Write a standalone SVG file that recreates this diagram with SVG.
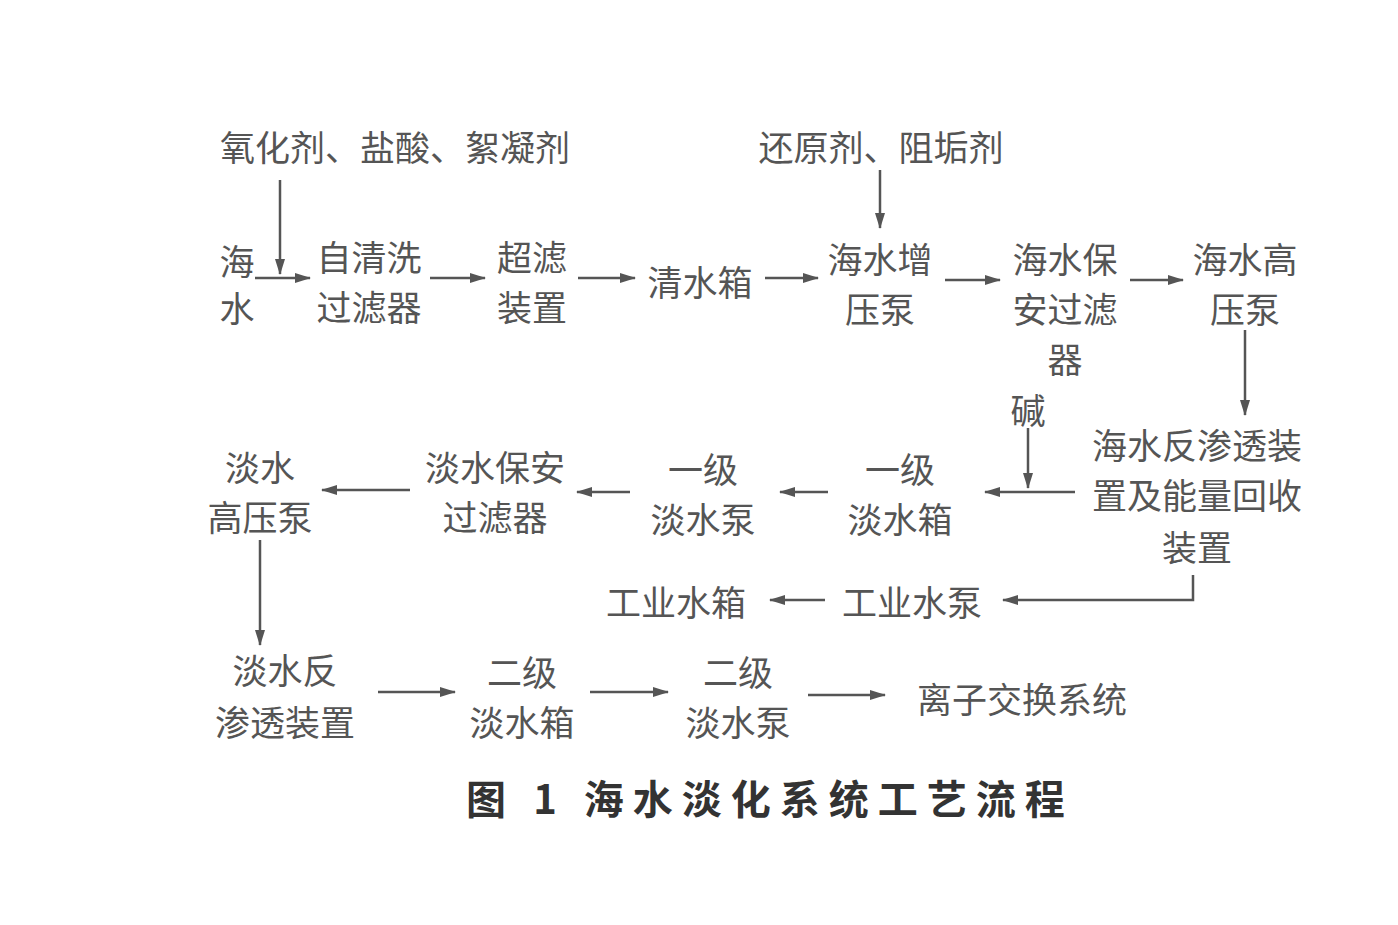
<svg xmlns="http://www.w3.org/2000/svg" width="1398" height="925" viewBox="0 0 1398 925">
<style>
text{font-family:"Noto Sans CJK SC","Liberation Serif",serif;font-size:35px;fill:#555;text-anchor:middle;dominant-baseline:central}
.c{font-family:"Noto Sans CJK SC",sans-serif;font-size:40px;fill:#333;font-weight:bold;letter-spacing:9px}
line,polyline{stroke:#555;stroke-width:2.5;fill:none;marker-end:url(#a)}
</style>
<defs><marker id="a" markerWidth="16" markerHeight="10" refX="15" refY="5" orient="auto" markerUnits="userSpaceOnUse" viewBox="0 0 16 10"><path d="M0,0L16,5L0,10z" fill="#555"/></marker></defs>
<rect width="1398" height="925" fill="#fff"/>
<g id="n1"><text x="395" y="145">氧化剂、盐酸、絮凝剂</text></g>
<g id="n2"><text x="881" y="145">还原剂、阻垢剂</text></g>
<g id="n3"><text x="237" y="259" font-size="33">海</text><text x="237" y="306" font-size="33">水</text></g>
<g id="n4"><text x="369" y="255">自清洗</text><text x="369" y="305">过滤器</text></g>
<g id="n5"><text x="532" y="255">超滤</text><text x="532" y="305">装置</text></g>
<g id="n6"><text x="700" y="280">清水箱</text></g>
<g id="n7"><text x="880" y="257">海水增</text><text x="880" y="307">压泵</text></g>
<g id="n8"><text x="1065" y="257">海水保</text><text x="1065" y="307">安过滤</text><text x="1065" y="357">器</text></g>
<g id="n9"><text x="1245" y="257">海水高</text><text x="1245" y="307">压泵</text></g>
<g id="n10"><text x="1028" y="408">碱</text></g>
<g id="n11"><text x="1197" y="443">海水反渗透装</text><text x="1197" y="493">置及能量回收</text><text x="1197" y="545">装置</text></g>
<g id="n12"><text x="900" y="467">一级</text><text x="900" y="517">淡水箱</text></g>
<g id="n13"><text x="703" y="467">一级</text><text x="703" y="517">淡水泵</text></g>
<g id="n14"><text x="495" y="465">淡水保安</text><text x="495" y="515">过滤器</text></g>
<g id="n15"><text x="260" y="465">淡水</text><text x="260" y="515">高压泵</text></g>
<g id="n16"><text x="676" y="600">工业水箱</text></g>
<g id="n17"><text x="912" y="600">工业水泵</text></g>
<g id="n18"><text x="285" y="668">淡水反</text><text x="285" y="720">渗透装置</text></g>
<g id="n19"><text x="522" y="670">二级</text><text x="522" y="720">淡水箱</text></g>
<g id="n20"><text x="738" y="670">二级</text><text x="738" y="720">淡水泵</text></g>
<g id="n21"><text x="1022" y="697">离子交换系统</text></g>
<text class="c" x="770" y="797">图 1  海水淡化系统工艺流程</text>
<g id="connectors">
<line x1="280" y1="180" x2="280" y2="274"/>
<line x1="255" y1="278" x2="310" y2="278"/>
<line x1="430" y1="278" x2="485" y2="278"/>
<line x1="578" y1="278" x2="635" y2="278"/>
<line x1="765" y1="278" x2="818" y2="278"/>
<line x1="880" y1="170" x2="880" y2="228"/>
<line x1="945" y1="280" x2="1000" y2="280"/>
<line x1="1130" y1="280" x2="1183" y2="280"/>
<line x1="1245" y1="330" x2="1245" y2="415"/>
<line x1="1075" y1="492" x2="985" y2="492"/>
<line x1="1028" y1="428" x2="1028" y2="488"/>
<line x1="828" y1="492" x2="780" y2="492"/>
<line x1="630" y1="492" x2="577" y2="492"/>
<line x1="410" y1="490" x2="322" y2="490"/>
<line x1="260" y1="540" x2="260" y2="645"/>
<polyline points="1193,575 1193,600 1003,600"/>
<line x1="825" y1="600" x2="770" y2="600"/>
<line x1="378" y1="692" x2="455" y2="692"/>
<line x1="590" y1="692" x2="668" y2="692"/>
<line x1="808" y1="695" x2="885" y2="695"/>
</g>
</svg>
